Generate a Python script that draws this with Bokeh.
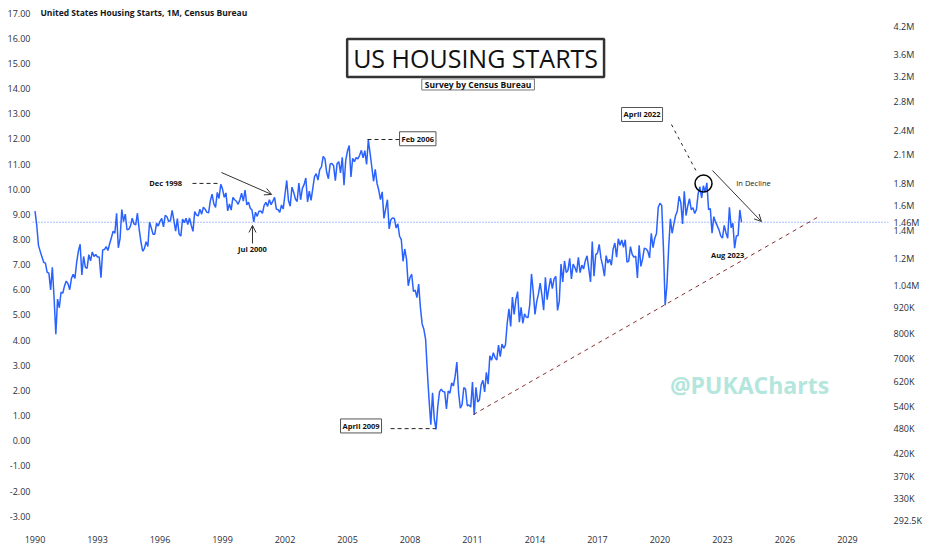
import math
from bokeh.plotting import figure
from bokeh.models import (ColumnDataSource, Range1d, LinearAxis, LinearScale, FixedTicker,
                          NumeralTickFormatter, Label, Span, Arrow, OpenHead)
from bokeh.embed import file_html
from bokeh.resources import INLINE

# ---------------- data (thousands of units, SAAR, monthly) ----------------
start_year = 1990
starts_1990s = [
    1551, 1437, 1289, 1248, 1212, 1177, 1171, 1115, 1110, 1014, 1145, 969,
    798, 965, 921, 1001, 996, 1036, 1063, 1049, 1015, 1079, 1103, 1079,
    1176, 1250, 1297, 1099, 1214, 1145, 1139, 1226, 1186, 1244, 1214, 1227,
    1210, 1210, 1083, 1258, 1260, 1280, 1254, 1300, 1343, 1392, 1376, 1533,
    1272, 1337, 1564, 1465, 1526, 1402, 1405, 1432, 1493, 1447, 1440, 1533,
    1407, 1316, 1249, 1267, 1314, 1281, 1461, 1416, 1369, 1369, 1452, 1431,
    1467, 1491, 1424, 1516, 1504, 1467, 1472, 1557, 1475, 1392, 1489, 1370,
    1355, 1486, 1457, 1492, 1442, 1494, 1437, 1390, 1546, 1520, 1510, 1566,
    1525, 1584, 1567, 1540, 1536, 1641, 1698, 1614, 1582, 1715, 1660, 1792,
    1748, 1670, 1710, 1553, 1611, 1559, 1669, 1648, 1635, 1608, 1648, 1708,
]
starts_2000s = [
    1636, 1737, 1604, 1626, 1575, 1559, 1463, 1541, 1507, 1549, 1551, 1532,
    1600, 1625, 1590, 1649, 1605, 1636, 1670, 1567, 1562, 1540, 1602, 1568,
    1698, 1829, 1642, 1592, 1764, 1717, 1655, 1633, 1804, 1648, 1753, 1788,
    1853, 1629, 1726, 1643, 1751, 1867, 1897, 1833, 1939, 1967, 2083, 2057,
    1911, 1846, 1998, 2003, 1981, 1828, 2002, 2024, 1905, 2072, 1782, 2042,
    2144, 2207, 1864, 2061, 2025, 2068, 2054, 2095, 2151, 2065, 2147, 1994,
    2273, 2119, 1969, 1821, 1942, 1802, 1737, 1650, 1720, 1491, 1570, 1649,
    1409, 1480, 1495, 1490, 1415, 1448, 1354, 1330, 1183, 1264, 1197, 1037,
    1084, 1103, 1005, 1013, 973, 1046, 923, 844, 820, 777, 652, 560,
    490, 582, 505, 478, 540, 585, 594, 586, 585, 534, 588, 581,
]
starts_2010s = [
    614, 604, 636, 687, 583, 536, 546, 599, 594, 543, 545, 539,
    617, 517, 600, 554, 561, 608, 623, 585, 650, 610, 711, 694,
    723, 704, 695, 753, 708, 757, 740, 754, 847, 915, 833, 976,
    888, 962, 1005, 852, 923, 847, 891, 876, 873, 936, 1105, 1003,
    888, 952, 992, 1052, 985, 909, 1085, 962, 1025, 1081, 1021, 1076,
    1091, 908, 954, 1166, 1059, 1185, 1114, 1126, 1202, 1076, 1165, 1144,
    1114, 1208, 1113, 1159, 1135, 1187, 1218, 1136, 1058, 1316, 1092, 1226,
    1236, 1296, 1203, 1156, 1092, 1220, 1172, 1196, 1158, 1263, 1305, 1210,
    1336, 1290, 1327, 1276, 1329, 1177, 1184, 1280, 1228, 1209, 1217, 1081,
    1289, 1151, 1199, 1270, 1265, 1249, 1205, 1375, 1274, 1340, 1375, 1582,
]
starts_2020s = [
    1617, 1599, 1270, 934, 1038, 1273, 1487, 1376, 1448, 1514, 1552, 1680,
    1625, 1447, 1725, 1514, 1594, 1657, 1562, 1580, 1530, 1563, 1703, 1768,
    1666, 1777, 1716, 1805, 1562, 1571, 1377, 1505, 1463, 1432, 1401, 1357,
    1340, 1436, 1380, 1340, 1583, 1418, 1451, 1269, 1356, 1359, 1560, 1460,
]
last_value = 1460
last_label = "1.46M"

year_ticks = [1990, 1993, 1996, 1999, 2002, 2005, 2008, 2011, 2014, 2017, 2020, 2023, 2026, 2029]
left_ticks = list(range(-3, 18))
right_ticks = [292.5, 330, 370, 420, 480, 540, 620, 700, 800, 920, 1040, 1200, 1400,
               1600, 1800, 2100, 2400, 2800, 3200, 3600, 4200]
right_labels = ["292.5K", "330K", "370K", "420K", "480K", "540K", "620K", "700K", "800K",
                "920K", "1.04M", "1.2M", "1.4M", "1.6M", "1.8M", "2.1M", "2.4M", "2.8M",
                "3.2M", "3.6M", "4.2M"]

values = starts_1990s + starts_2000s + starts_2010s + starts_2020s
xs = [start_year + i / 12.0 for i in range(len(values))]
src = ColumnDataSource(dict(x=xs, y=values))

# ---------------- figure ----------------
BLUE = "#2962ff"
TXT = "#2a2e39"
FONT = "Open Sans"

p = figure(width=932, height=550, y_axis_type="log", y_axis_location="right",
           x_range=Range1d(1989.88, 2030.97), y_range=Range1d(274.2, 4825),
           output_backend="svg", toolbar_location=None,
           min_border_left=32, min_border_right=44, min_border_top=0, min_border_bottom=18)
p.xgrid.visible = False
p.ygrid.visible = False
p.outline_line_color = None
p.background_fill_color = "white"

# bottom axis
xa = p.xaxis[0]
xa.ticker = FixedTicker(ticks=year_ticks)
xa.major_label_overrides = {t: str(t) for t in year_ticks}
xa.axis_line_color = None
xa.major_tick_line_color = None
xa.minor_tick_line_color = None
xa.major_tick_out = 0
xa.major_label_standoff = 3
xa.major_label_text_font = FONT
xa.major_label_text_font_size = "9px"
xa.major_label_text_color = TXT

# right log axis (plus the current-value tick)
ya = p.yaxis[0]
ya.ticker = FixedTicker(ticks=right_ticks + [last_value])
overrides = dict(zip(right_ticks, right_labels))
overrides[last_value] = last_label
ya.major_label_overrides = overrides
ya.axis_line_color = None
ya.major_tick_line_color = None
ya.minor_tick_line_color = None
ya.major_tick_out = 0
ya.major_label_standoff = 5
ya.major_label_text_align = "left"
ya.major_label_text_font = FONT
ya.major_label_text_font_size = "9px"
ya.major_label_text_color = TXT

# left linear axis (independent scale)
p.extra_y_ranges = {"lin": Range1d(-3.65, 17.503)}
p.extra_y_scales = {"lin": LinearScale()}
la = LinearAxis(y_range_name="lin", ticker=FixedTicker(ticks=left_ticks),
                formatter=NumeralTickFormatter(format="0.00"))
la.axis_line_color = None
la.major_tick_line_color = None
la.minor_tick_line_color = None
la.major_tick_out = 0
la.major_label_standoff = 2
la.major_label_text_font = FONT
la.major_label_text_font_size = "9px"
la.major_label_text_color = TXT
p.add_layout(la, "left")

# current value line
p.add_layout(Span(location=last_value, dimension="width", line_color=BLUE,
                  line_dash="1 2", line_width=1, line_alpha=0.8))

# series
p.line("x", "y", source=src, line_color=BLUE, line_width=1.5)

# trend line (dark red dashed)
p.line([2011.05, 2027.71], [518, 1514], line_color="#8b2e2e", line_dash="4 4", line_width=1)

# dashed pointers
DK = "#222222"
p.line([1997.56, 1998.85], [1800, 1800], line_color=DK, line_dash="4 3", line_width=1)
p.line([2005.96, 2007.5], [2281, 2281], line_color=DK, line_dash="4 3", line_width=1)
p.line([2007.07, 2009.23], [480, 480], line_color=DK, line_dash="4 3", line_width=1)
p.line([2020.55, 2021.80], [2473, 1899], line_color=DK, line_dash="3 4", line_width=1)

# circle at April 2022
p.scatter([2022.09], [1800], marker="circle", size=17, fill_color=None,
          line_color="black", line_width=1.5)

# arrows
p.add_layout(Arrow(end=OpenHead(size=7, line_color="#333", line_width=1),
                   x_start=1998.95, y_start=1909, x_end=2001.36, y_end=1696,
                   line_color="#333", line_width=1))
p.add_layout(Arrow(end=OpenHead(size=7, line_color="#333", line_width=1),
                   x_start=2000.44, y_start=1302, x_end=2000.44, y_end=1435,
                   line_color="#333", line_width=1))
p.add_layout(Arrow(end=OpenHead(size=7, line_color="#333", line_width=1),
                   x_start=2022.52, y_start=1930, x_end=2024.87, y_end=1466,
                   line_color="#333", line_width=1))

def lab(text, x, y, size="7.5px", style="bold", color="#111", align="center",
        baseline="middle", box=False, font=FONT, **kw):
    opts = dict(text=text, x=x, y=y, text_font=font, text_font_size=size,
                text_font_style=style, text_color=color, text_align=align,
                text_baseline=baseline)
    if box:
        opts.update(background_fill_color="white", border_line_color="#555",
                    border_line_width=1, padding=2)
    opts.update(kw)
    p.add_layout(Label(**opts))

# titles
lab("US HOUSING STARTS", 2011.15, 3539, size="25px", style="normal", color="#111",
    background_fill_color="white", border_line_color="#333", border_line_width=2.5,
    padding=(6, 2))
lab("Survey by Census Bureau", 2011.27, 3068, size="8.5px", style="bold", color="#111",
    background_fill_color="white", border_line_color="#777", border_line_width=1,
    padding=(3, 0))
lab("United States Housing Starts, 1M, Census Bureau", 1990.26, 4523, size="8.5px",
    style="bold", color="#131722", align="left")

# annotations
lab("Dec 1998", 1996.27, 1800)
lab("Jul 2000", 2000.44, 1267)
lab("Feb 2006", 2007.5, 2290, align="left", box=True)
lab("April 2009", 2005.65, 487, box=True)
lab("April 2022", 2019.14, 2610, box=True)
lab("In Decline", 2024.49, 1800, style="normal", color="#222")
lab("Aug 2023", 2023.25, 1227)

# watermark
lab("@PUKACharts", 2024.30, 606, size="23px", style="bold", color="#b3e6dc")

open("out.html", "w").write(file_html(p, INLINE))
